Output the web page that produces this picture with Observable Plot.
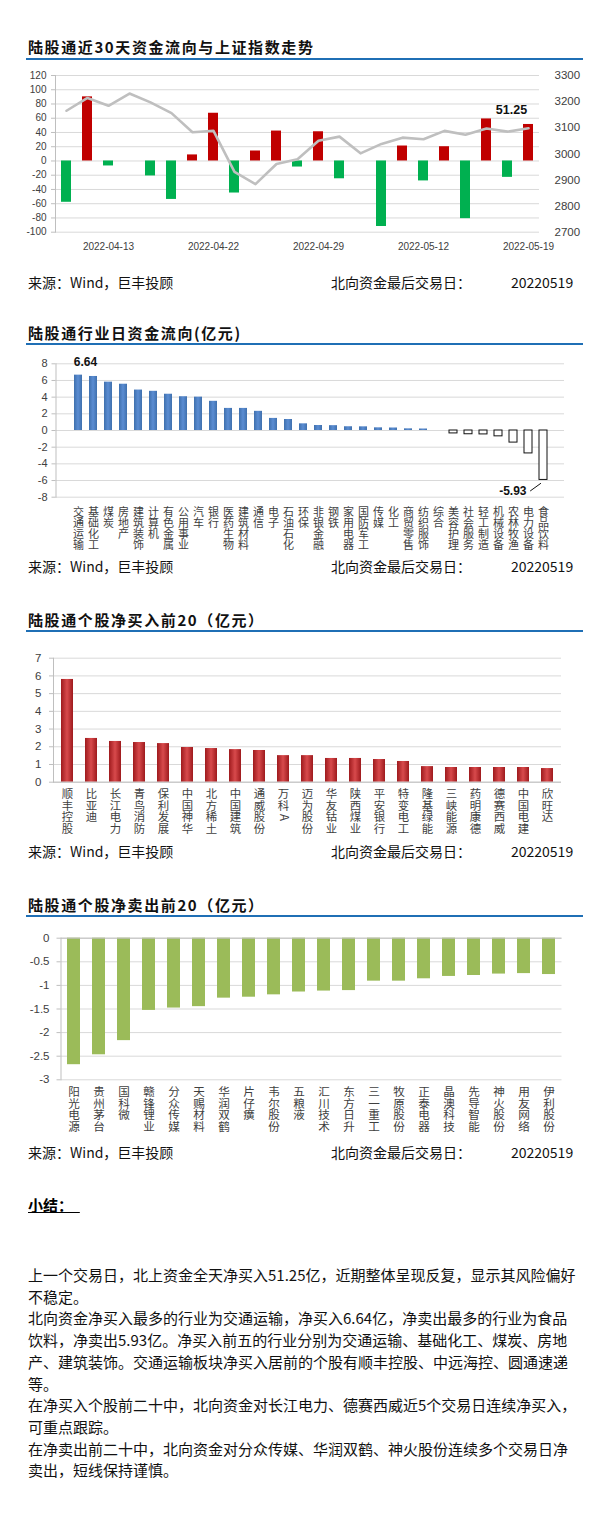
<!DOCTYPE html>
<html><head><meta charset="utf-8">
<script src="https://cdn.jsdelivr.net/npm/d3@7"></script>
<script src="https://cdn.jsdelivr.net/npm/@observablehq/plot@0.6"></script>
<style>
body{margin:0;width:605px;height:1530px;background:#fff;position:relative;font-family:"Noto Sans CJK SC",sans-serif;color:#000;overflow:hidden}
.title{position:absolute;left:28px;font-size:15px;font-weight:700;line-height:18px;letter-spacing:1.6px;white-space:nowrap;color:#111}
.rule{position:absolute;left:26px;width:557px;height:2px;background:#1f6fb5}
.src{position:absolute;font-size:14px;line-height:18px;white-space:nowrap;color:#111}
.chart{position:absolute;left:0;width:605px}
.sum{position:absolute;left:28px;font-size:15px;line-height:21.7px;white-space:nowrap;color:#111}
.sumhead{position:absolute;left:28px;top:1196px;font-size:15px;font-weight:700;line-height:18px;text-decoration:underline;white-space:pre}
</style></head><body>

<div class="title" style="top:38px">陆股通近30天资金流向与上证指数走势</div>
<div class="rule" style="top:58px"></div>
<div class="chart" id="c1" style="top:62px;height:200px"></div>
<div class="src" style="top:273px;left:28px">来源：Wind，巨丰投顾</div>
<div class="src" style="top:273px;left:331px">北向资金最后交易日：</div>
<div class="src" style="top:273px;left:511px">20220519</div>

<div class="title" style="top:324px">陆股通行业日资金流向(亿元)</div>
<div class="rule" style="top:343px"></div>
<div class="chart" id="c2" style="top:350px;height:210px"></div>
<div class="src" style="top:557px;left:28px">来源：Wind，巨丰投顾</div>
<div class="src" style="top:557px;left:331px">北向资金最后交易日：</div>
<div class="src" style="top:557px;left:511px">20220519</div>

<div class="title" style="top:611px">陆股通个股净买入前20（亿元）</div>
<div class="rule" style="top:630px"></div>
<div class="chart" id="c3" style="top:640px;height:205px"></div>
<div class="src" style="top:842px;left:28px">来源：Wind，巨丰投顾</div>
<div class="src" style="top:842px;left:331px">北向资金最后交易日：</div>
<div class="src" style="top:842px;left:511px">20220519</div>

<div class="title" style="top:896px">陆股通个股净卖出前20（亿元）</div>
<div class="rule" style="top:915px"></div>
<div class="chart" id="c4" style="top:925px;height:220px"></div>
<div class="src" style="top:1143px;left:28px">来源：Wind，巨丰投顾</div>
<div class="src" style="top:1143px;left:331px">北向资金最后交易日：</div>
<div class="src" style="top:1143px;left:511px">20220519</div>

<div class="sumhead">小结：  </div>
<div class="sum" style="top:1264px">上一个交易日，北上资金全天净买入51.25亿，近期整体呈现反复，显示其风险偏好<br>不稳定。<br>北向资金净买入最多的行业为交通运输，净买入6.64亿，净卖出最多的行业为食品<br>饮料，净卖出5.93亿。净买入前五的行业分别为交通运输、基础化工、煤炭、房地<br>产、建筑装饰。交通运输板块净买入居前的个股有顺丰控股、中远海控、圆通速递<br>等。<br>在净买入个股前二十中，北向资金对长江电力、德赛西威近5个交易日连续净买入，<br>可重点跟踪。<br>在净卖出前二十中，北向资金对分众传媒、华润双鹤、神火股份连续多个交易日净<br>卖出，短线保持谨慎。</div>

<script>
// ---------- data ----------
const flowDates = ["2022-04-11","2022-04-12","2022-04-13","2022-04-14","2022-04-19","2022-04-20","2022-04-21","2022-04-22","2022-04-25","2022-04-26","2022-04-27","2022-04-28","2022-04-29","2022-05-05","2022-05-06","2022-05-10","2022-05-11","2022-05-12","2022-05-13","2022-05-16","2022-05-17","2022-05-18","2022-05-19"];
const flowValues = [-58, 90, -7, 0, -21, -54, 8.5, 67, -45, 14, 42, -8.5, 41, -25, 0, -92, 21, -28, 20, -81, 59, -23, 51.25];
const shIndex = [3165, 3214, 3184, 3231, 3197, 3156, 3083, 3088, 2931, 2884, 2961, 2979, 3050, 3066, 3002, 3038, 3062, 3056, 3088, 3073, 3097, 3085, 3098];
const dateTicks = ["2022-04-13","2022-04-22","2022-04-29","2022-05-12","2022-05-19"];
const flowTicks = [-100,-80,-60,-40,-20,0,20,40,60,80,100,120];
const indexTicks = [2700,2800,2900,3000,3100,3200,3300];

const industries = ["交通运输","基础化工","煤炭","房地产","建筑装饰","计算机","有色金属","公用事业","汽车","银行","医药生物","建筑材料","通信","电子","石油石化","环保","非银金融","钢铁","家用电器","国防军工","传媒","化工","商贸零售","纺织服饰","综合","美容护理","社会服务","轻工制造","机械设备","农林牧渔","电力设备","食品饮料"];
const industryValues = [6.64, 6.48, 5.8, 5.55, 4.85, 4.7, 4.35, 4.05, 4.0, 3.5, 2.65, 2.65, 2.3, 1.45, 1.32, 0.8, 0.6, 0.58, 0.45, 0.44, 0.32, 0.3, 0.2, 0.18, 0, -0.35, -0.45, -0.47, -0.7, -1.45, -2.75, -5.93];
const industryTicks = [-8,-6,-4,-2,0,2,4,6,8];

const buyStocks = ["顺丰控股","比亚迪","长江电力","青鸟消防","保利发展","中国神华","北方稀土","中国建筑","通威股份","万科A","迈为股份","华友钴业","陕西煤业","平安银行","特变电工","隆基绿能","三峡能源","药明康德","德赛西威","中国电建","欣旺达"];
const buyValues = [5.8, 2.47, 2.3, 2.24, 2.18, 1.96, 1.9, 1.84, 1.79, 1.5, 1.5, 1.34, 1.34, 1.28, 1.17, 0.88, 0.83, 0.83, 0.83, 0.83, 0.77];
const buyTicks = [0,1,2,3,4,5,6,7];

const sellStocks = ["阳光电源","贵州茅台","国科微","赣锋锂业","分众传媒","天赐材料","华润双鹤","片仔癀","韦尔股份","五粮液","汇川技术","东方日升","三一重工","牧原股份","正泰电器","晶澳科技","先导智能","神火股份","用友网络","伊利股份"];
const sellValues = [-2.68, -2.47, -2.17, -1.53, -1.48, -1.45, -1.27, -1.25, -1.2, -1.14, -1.12, -1.11, -0.91, -0.91, -0.86, -0.81, -0.79, -0.76, -0.75, -0.77];
const sellTicks = [-3,-2.5,-2,-1.5,-1,-0.5,0];

// ---------- helpers ----------
const FONT = "'Liberation Sans','Noto Sans CJK SC',sans-serif";
const CJK = "'Noto Sans CJK SC',sans-serif";
const baseStyle = {fontFamily: FONT, fontSize: "11px", color: "#404040", background: "transparent", overflow: "visible"};
const GRID = "#d9d9d9", AX = "#bfbfbf";
function place(id, svg) { svg.style.position = "absolute"; svg.style.left = "0"; svg.style.top = "0"; document.getElementById(id).appendChild(svg); }
function gradient(svg, id, from, mid) {
  const ns = "http://www.w3.org/2000/svg";
  const defs = document.createElementNS(ns, "defs");
  const g = document.createElementNS(ns, "linearGradient");
  g.setAttribute("id", id); g.setAttribute("x1", "0"); g.setAttribute("x2", "1"); g.setAttribute("y1", "0"); g.setAttribute("y2", "0");
  [["0", from], ["0.5", mid], ["1", from]].forEach(([o, c]) => { const s = document.createElementNS(ns, "stop"); s.setAttribute("offset", o); s.setAttribute("stop-color", c); g.appendChild(s); });
  defs.appendChild(g); svg.insertBefore(defs, svg.firstChild);
}
function recolor(svg, solid, id) { svg.querySelectorAll(`[fill="${solid}"]`).forEach(el => { if (el.tagName === "g" || el.tagName === "rect") el.setAttribute("fill", `url(#${id})`); }); }
// vertical category labels: one text per character, stacked below the frame (Latin letters turned sideways)
function catLabels(names, first, step, size) {
  const chars = names.flatMap(n => Array.from(n).map((c, j) => ({name: n, c, j})));
  const maxJ = d3.max(chars, d => d.j);
  return d3.range(maxJ + 1).map(j => Plot.text(chars.filter(d => d.j === j), {
    x: "name", text: "c", frameAnchor: "bottom", lineAnchor: "middle", dy: first + j * step,
    rotate: d => /[A-Za-z]/.test(d.c) ? 90 : 0,
    fontSize: size, fontFamily: CJK, fill: "#404040"
  }));
}

// ---------- chart 1 ----------
const flow = flowDates.map((d, i) => ({date: d, value: flowValues[i], index: shIndex[i]}));
const x1 = {type: "band", domain: flowDates, paddingInner: 0.52, paddingOuter: 0.26, axis: null};
const dims1 = {width: 605, height: 200, marginTop: 13, marginBottom: 30.3, marginLeft: 55, marginRight: 66};
const c1a = Plot.plot({
  ...dims1, style: baseStyle, x: x1, y: {domain: [-100, 120], axis: null},
  marks: [
    Plot.gridY(flowTicks, {stroke: GRID, strokeOpacity: 1}),
    Plot.frame({anchor: "left", stroke: AX}),
    Plot.barY(flow.filter(d => d.value > 0), {x: "date", y: "value", fill: "#c00000"}),
    Plot.barY(flow.filter(d => d.value < 0), {x: "date", y: "value", fill: "#00b050"}),
    Plot.axisY(flowTicks, {label: null, tickSize: 4, tickPadding: 5, stroke: AX, fill: "#404040", fontSize: 10, tickFormat: d => String(d)}),
    Plot.axisX(dateTicks, {label: null, tickSize: 0, tickPadding: 11, fontSize: 10, fill: "#404040"}),
    Plot.text(flow.slice(-1), {x: "date", y: "value", text: d => d.value.toFixed(2), dy: -14, dx: -17, fontWeight: "bold", fontSize: 12.5, fill: "#111"})
  ]
});
place("c1", c1a);
const c1b = Plot.plot({
  ...dims1, style: baseStyle, x: x1, y: {domain: [2700, 3300], axis: null},
  marks: [
    Plot.line(flow, {x: "date", y: "index", stroke: "#bfbfbf", strokeWidth: 2.6}),
    Plot.axisY(indexTicks, {label: null, anchor: "right", tickSize: 0, tickPadding: 15, fontSize: 11.5, fill: "#404040", tickFormat: d => String(d)})
  ]
});
place("c1", c1b);

// ---------- chart 2 ----------
const ind = industries.map((d, i) => ({name: d, value: industryValues[i]}));
const minInd = ind[ind.length - 1];
const prevName = industries[industries.length - 2];
const c2 = Plot.plot({
  width: 605, height: 210, marginTop: 13.3, marginBottom: 63.3, marginLeft: 55.5, marginRight: 41,
  style: baseStyle,
  x: {type: "band", domain: industries, paddingInner: 0.5, paddingOuter: 0.25, axis: null},
  y: {domain: [-8, 8], axis: null},
  marks: [
    Plot.gridY(industryTicks, {stroke: GRID, strokeOpacity: 1}),
    Plot.frame({anchor: "left", stroke: AX}),
    Plot.barY(ind.filter(d => d.value > 0), {x: "name", y: "value", fill: "#4a7ebb"}),
    Plot.barY(ind.filter(d => d.value < 0), {x: "name", y: "value", fill: "#ffffff", stroke: "#111", strokeWidth: 1}),
    Plot.axisY(industryTicks, {label: null, tickSize: 4, tickPadding: 4.5, stroke: AX, fill: "#404040", fontSize: 11, tickFormat: d => String(d)}),
    ...catLabels(industries, 15, 11.2, 11),
    Plot.text(ind.slice(0, 1), {x: "name", y: "value", text: d => d.value.toFixed(2), dy: -12.6, dx: 7, fontWeight: "bold", fontSize: 12, fill: "#111"}),
    Plot.arrow([minInd], {x1: () => prevName, y1: d => d.value - 1.3, x2: "name", y2: "value", dx: 2, headLength: 0, insetEnd: 6, stroke: "#111", strokeWidth: 1}),
    Plot.text([minInd], {x: () => prevName, y: d => d.value - 1.3, text: d => d.value.toFixed(2), textAnchor: "end", dx: -2, fontWeight: "bold", fontSize: 12, fill: "#111"})
  ]
});
gradient(c2, "blueGrad", "#3f70ad", "#5b8dd3");
recolor(c2, "#4a7ebb", "blueGrad");
place("c2", c2);

// ---------- chart 3 ----------
const buys = buyStocks.map((d, i) => ({name: d, value: buyValues[i]}));
const c3 = Plot.plot({
  width: 605, height: 205, marginTop: 17.7, marginBottom: 63.3, marginLeft: 53, marginRight: 44,
  style: baseStyle,
  x: {type: "band", domain: buyStocks, paddingInner: 0.5, paddingOuter: 0.25, axis: null},
  y: {domain: [0, 7], axis: null},
  marks: [
    Plot.gridY(buyTicks, {stroke: GRID, strokeOpacity: 1}),
    Plot.frame({anchor: "left", stroke: AX}),
    Plot.barY(buys, {x: "name", y: "value", fill: "#c0353a"}),
    Plot.ruleY([0], {stroke: AX}),
    Plot.axisY(buyTicks, {label: null, tickSize: 4, tickPadding: 8, stroke: AX, fill: "#404040", fontSize: 11.5, tickFormat: d => String(d)}),
    ...catLabels(buyStocks, 12.3, 11.5, 11.4)
  ]
});
gradient(c3, "redGrad", "#9e1a1d", "#d84a4c");
recolor(c3, "#c0353a", "redGrad");
place("c3", c3);

// ---------- chart 4 ----------
const sells = sellStocks.map((d, i) => ({name: d, value: sellValues[i]}));
const c4 = Plot.plot({
  width: 605, height: 220, marginTop: 12.7, marginBottom: 65.7, marginLeft: 60.5, marginRight: 43.5,
  style: baseStyle,
  x: {type: "band", domain: sellStocks, paddingInner: 0.49, paddingOuter: 0.25, axis: null},
  y: {domain: [-3, 0], axis: null},
  marks: [
    Plot.gridY(sellTicks, {stroke: GRID, strokeOpacity: 1}),
    Plot.frame({anchor: "left", stroke: AX}),
    Plot.barY(sells, {x: "name", y: "value", fill: "#9bbb59"}),
    Plot.ruleY([0], {stroke: AX}),
    Plot.axisY(sellTicks, {label: null, tickSize: 4, tickPadding: 7.5, stroke: AX, fill: "#404040", fontSize: 11.5, tickFormat: d => String(d)}),
    ...catLabels(sellStocks, 12.4, 11.7, 11.6)
  ]
});
place("c4", c4);
</script>
</body></html>
